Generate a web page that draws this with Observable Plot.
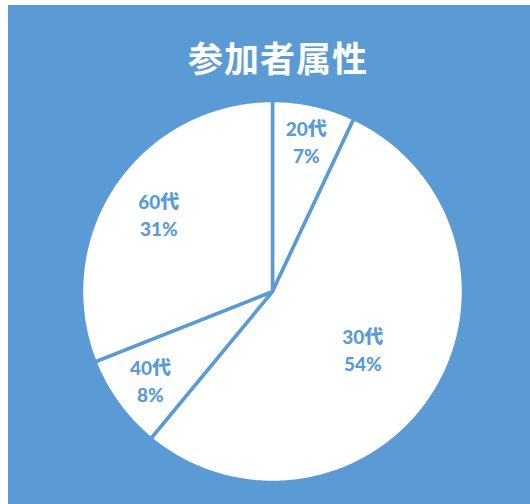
<!DOCTYPE html>
<html>
<head>
<meta charset="utf-8">
<script src="https://cdn.jsdelivr.net/npm/d3@7"></script>
<script src="https://cdn.jsdelivr.net/npm/@observablehq/plot@0.6"></script>
<style>
  html, body { margin: 0; padding: 0; background: #ffffff; }
  #frame {
    position: absolute; left: 8px; top: 5px; width: 522px; height: 499px;
    background: #5B9BD5; overflow: hidden;
  }
  #title {
    position: absolute; left: 0; top: 0; width: 540px; height: 95px;
    text-align: center; line-height: 104px;
    font-family: "Noto Sans CJK JP", sans-serif; font-weight: 700;
    font-size: 35px; color: #ffffff; letter-spacing: 1px;
  }
  #chart { position: absolute; left: 0; top: 95px; }
</style>
</head>
<body>
<div id="frame">
  <div id="title">参加者属性</div>
  <div id="chart"></div>
</div>
<script>
// ---- data ----
const categories = ["20代", "30代", "40代", "60代"];
const percents = [7, 54, 8, 31];
const title = "参加者属性";

// ---- layout (not data) ----
const labelRadius = [0.81, 0.56, 0.79, 0.72];
const BLUE = "#5B9BD5";
const W = 522, H = 404;
const cx = 264, cy = 191, R = 191;

document.getElementById("title").textContent = title;

const pie = d3.pie().sort(null).value(d => d.value)(
  categories.map((c, i) => ({ category: c, value: percents[i] }))
);

// Slice outlines (in unit-circle coordinates, y up, angle clockwise from 12 o'clock)
const outline = [];
pie.forEach(s => {
  const cat = s.data.category;
  outline.push({ cat, x: 0, y: 0 });
  const n = Math.max(2, Math.ceil((s.endAngle - s.startAngle) / (Math.PI / 360)));
  for (let k = 0; k <= n; k++) {
    const a = s.startAngle + (s.endAngle - s.startAngle) * k / n;
    outline.push({ cat, x: Math.sin(a), y: Math.cos(a) });
  }
});

const labels = pie.map((s, i) => {
  const a = (s.startAngle + s.endAngle) / 2;
  return {
    x: Math.sin(a) * labelRadius[i],
    y: Math.cos(a) * labelRadius[i],
    text: s.data.category + "\n" + s.data.value + "%"
  };
});

const plot = Plot.plot({
  width: W, height: H,
  margin: 0,
  style: { background: "transparent", overflow: "visible" },
  x: { domain: [-1, 1], range: [cx - R, cx + R], axis: null },
  y: { domain: [-1, 1], range: [cy + R, cy - R], axis: null },
  marks: [
    Plot.line(outline, {
      x: "x", y: "y", z: "cat",
      fill: "white", stroke: BLUE, strokeWidth: 3.5,
      strokeLinejoin: "round",
      curve: "linear-closed"
    }),
    Plot.text(labels, {
      x: "x", y: "y", text: "text",
      fill: BLUE, fontSize: 19, fontWeight: 900,
      fontFamily: "Lato, 'Noto Sans CJK JP', sans-serif",
      lineHeight: 1.42
    })
  ]
});
document.getElementById("chart").appendChild(plot);
</script>
</body>
</html>
